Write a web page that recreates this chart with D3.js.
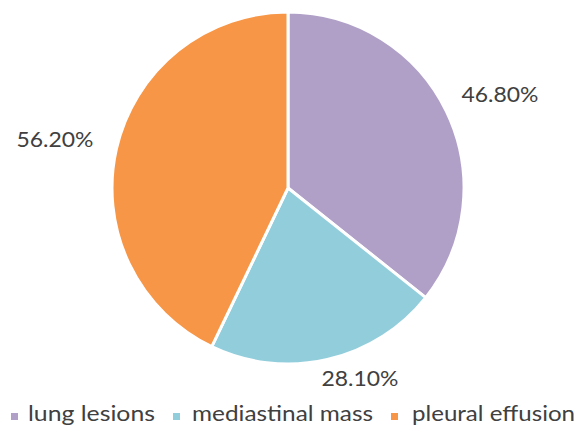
<!DOCTYPE html>
<html><head><meta charset="utf-8">
<script src="https://d3js.org/d3.v7.min.js"></script>
<style>body{margin:0;background:#fff}svg{display:block}</style>
</head><body>
<svg id="c" width="587" height="427"></svg>
<script>
const categories = ["lung lesions", "mediastinal mass", "pleural effusion"];
const values = [46.8, 28.1, 56.2];
const labels = ["46.80%", "28.10%", "56.20%"];
const colors = ["#B0A0C8", "#92CDDC", "#F79646"];

const svg = d3.select("#c");
const cx = 288, cy = 188, r = 176;
const g = svg.append("g").attr("transform", `translate(${cx},${cy})`);
const data = categories.map((c, i) => ({c, v: values[i], l: labels[i], col: colors[i]}));
const pie = d3.pie().value(d => d.v).sort(null);
const arc = d3.arc().innerRadius(0).outerRadius(r);
const arcs = pie(data);
g.selectAll("path").data(arcs).join("path")
  .attr("d", arc).attr("fill", d => d.data.col)
  .attr("stroke", "#fff").attr("stroke-width", 3).attr("stroke-linejoin", "round");

const font = "Lato, 'Open Sans', sans-serif";
const labelPos = [[500, 102], [360, 386], [55, 147]];
svg.selectAll("text.lbl").data(data).join("text").attr("class", "lbl")
  .attr("x", (d, i) => labelPos[i][0]).attr("y", (d, i) => labelPos[i][1])
  .attr("text-anchor", "middle").attr("font-family", font)
  .attr("font-size", 21).attr("fill", "#404040")
  .attr("textLength", 77).attr("lengthAdjust", "spacingAndGlyphs")
  .text(d => d.l);

const legSq = [11, 173, 391];
const legTx = [28, 192, 412];
const legW = [127, 181, 163];
const leg = svg.selectAll("g.leg").data(data).join("g").attr("class", "leg");
leg.append("rect").attr("x", (d, i) => legSq[i]).attr("y", 413).attr("width", 7).attr("height", 7).attr("fill", d => d.col);
leg.append("text").attr("x", (d, i) => legTx[i]).attr("y", 421)
  .attr("font-family", font).attr("font-size", 21)
  .attr("textLength", (d, i) => legW[i]).attr("lengthAdjust", "spacingAndGlyphs")
  .attr("fill", "#404040").text(d => d.c);
</script>
</body></html>
